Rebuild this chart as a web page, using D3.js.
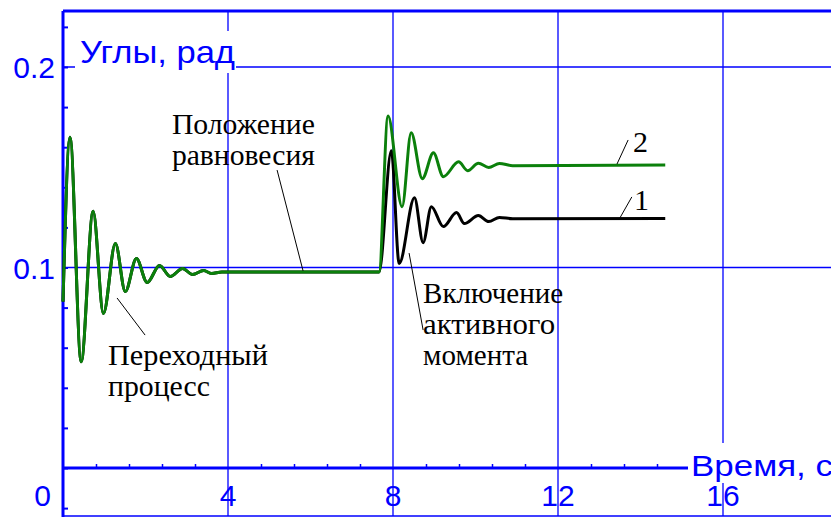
<!DOCTYPE html>
<html>
<head>
<meta charset="utf-8">
<script src="https://cdn.jsdelivr.net/npm/d3@7"></script>
<style>
  body { margin: 0; background: #fff; }
  svg { display: block; }
</style>
</head>
<body>
<div id="chart"></div>
<script>
// переходный процесс (общий для обеих кривых)
var timeStart  = [0, 0.17, 0.44, 0.73, 0.98, 1.27, 1.51, 1.78, 2.04, 2.34, 2.6, 2.9, 3.14, 3.41, 3.6, 3.85, 7.66];
var angleStart = [0.083, 0.165, 0.053, 0.128, 0.077, 0.112, 0.088, 0.1045, 0.0925, 0.101, 0.0955, 0.0995, 0.0965, 0.0985, 0.097, 0.0977, 0.0977];

// кривая 1 (чёрная) после включения активного момента
var time1  = [7.96, 8.15, 8.52, 8.73, 8.93, 9.22, 9.54, 9.73, 10.07, 10.32, 10.58, 10.9, 14.6];
var angle1 = [0.1582, 0.102, 0.1348, 0.1124, 0.1303, 0.1204, 0.1274, 0.1219, 0.1259, 0.1229, 0.125, 0.1243, 0.1244];

// кривая 2 (зелёная)
var time2  = [7.88, 8.22, 8.44, 8.71, 8.98, 9.22, 9.59, 9.81, 10.07, 10.32, 10.58, 10.9, 14.6];
var angle2 = [0.1756, 0.1303, 0.1672, 0.1443, 0.1572, 0.1453, 0.1527, 0.1483, 0.152, 0.1499, 0.1519, 0.1508, 0.1511];

var xTickLabels = [0, 4, 8, 12, 16];
var yTickLabels = [0.1, 0.2];

// подписи-выноски: [t, угол] начала и конца линии, текст
var notes = [
  { from: [5.19, 0.1486], to: [5.82, 0.0983], at: [2.64, 0.1666], lines: ["Положение", "равновесия"], widths: [143, 143] },
  { from: [1.31, 0.0848], to: [1.99, 0.0663], at: [1.09, 0.0514], lines: ["Переходный", "процесс"], widths: [160, 102] },
  { from: [8.39, 0.1072], to: [8.73, 0.0688], at: [8.73, 0.0823], lines: ["Включение", "активного", "момента"], widths: [140, 132, 105] },
  { from: [13.43, 0.1516], to: [13.70, 0.1636], at: [13.82, 0.1576], lines: ["2"], widths: [null] },
  { from: [13.50, 0.1247], to: [13.79, 0.1352], at: [13.84, 0.1287], lines: ["1"], widths: [null] }
];

var width = 831, height = 517;
var blue = "#0000ff";

var x = d3.scaleLinear().domain([0, 16]).range([63, 723]);
var y = d3.scaleLinear().domain([0, 0.2]).range([468, 67]);
var top_y = 11, bottom_y = 516;

var svg = d3.select("#chart")
  .append("svg")
  .attr("width", width)
  .attr("height", height);

// сетка
svg.selectAll(".vgrid")
  .data(xTickLabels.slice(1))
  .enter().append("line")
  .attr("x1", function(d) { return x(d); })
  .attr("x2", function(d) { return x(d); })
  .attr("y1", top_y)
  .attr("y2", bottom_y)
  .attr("stroke", blue)
  .attr("stroke-width", 1.3);

svg.selectAll(".hgrid")
  .data(yTickLabels)
  .enter().append("line")
  .attr("x1", x(0))
  .attr("x2", width)
  .attr("y1", function(d) { return y(d); })
  .attr("y2", function(d) { return y(d); })
  .attr("stroke", blue)
  .attr("stroke-width", 1.3);

// рамка сверху и снизу
svg.append("line").attr("x1", x(0)).attr("x2", width).attr("y1", top_y).attr("y2", top_y)
  .attr("stroke", blue).attr("stroke-width", 3);
svg.append("line").attr("x1", x(0)).attr("x2", width).attr("y1", bottom_y).attr("y2", bottom_y)
  .attr("stroke", blue).attr("stroke-width", 1.5);

// оси
var yMinor = d3.range(-0.02, 0.2201, 0.02);
svg.append("g")
  .attr("transform", "translate(" + x(0) + ",0)")
  .call(d3.axisRight(y).tickValues(yMinor).tickSize(5).tickFormat(""))
  .call(function(g) {
    g.select(".domain").remove();
    g.selectAll("line").attr("stroke", blue).attr("stroke-width", 2);
  });

var xMinor = d3.range(0.8, 15.3, 0.8).filter(function(d) { return Math.abs(d / 4 - Math.round(d / 4)) > 0.01; });
svg.append("g")
  .attr("transform", "translate(0," + y(0) + ")")
  .call(d3.axisTop(x).tickValues(xMinor).tickSize(4).tickFormat(""))
  .call(function(g) {
    g.select(".domain").remove();
    g.selectAll("line").attr("stroke", blue).attr("stroke-width", 1.5);
  });

svg.append("line").attr("x1", x(0)).attr("x2", 688).attr("y1", y(0)).attr("y2", y(0))
  .attr("stroke", blue).attr("stroke-width", 3);
svg.append("line").attr("x1", x(0)).attr("x2", x(0)).attr("y1", top_y).attr("y2", height)
  .attr("stroke", blue).attr("stroke-width", 3);

// кривые
var line = d3.line()
  .x(function(d) { return x(d[0]); })
  .y(function(d) { return y(d[1]); })
  .curve(d3.curveMonotoneX);

var start = timeStart.map(function(t, i) { return [t, angleStart[i]]; });
var series1 = start.concat(time1.map(function(t, i) { return [t, angle1[i]]; }));
var series2 = start.concat(time2.map(function(t, i) { return [t, angle2[i]]; }));

svg.append("path").datum(series1).attr("d", line)
  .attr("fill", "none").attr("stroke", "#000").attr("stroke-width", 3).attr("stroke-linejoin", "round");
svg.append("path").datum(series2).attr("d", line)
  .attr("fill", "none").attr("stroke", "#0b800b").attr("stroke-width", 3).attr("stroke-linejoin", "round");

// подписи осей с белым фоном
svg.append("rect").attr("x", 75).attr("y", 31).attr("width", 161).attr("height", 42).attr("fill", "#fff");
svg.append("text").attr("x", 80).attr("y", 63)
  .attr("font-family", "Liberation Sans, Arial, sans-serif").attr("font-size", 32)
  .attr("textLength", 155).attr("lengthAdjust", "spacingAndGlyphs")
  .attr("fill", blue).text("Углы, рад");

svg.append("rect").attr("x", 688).attr("y", 443).attr("width", 143).attr("height", 40).attr("fill", "#fff");
svg.append("text").attr("x", 691).attr("y", 476)
  .attr("font-family", "Liberation Sans, Arial, sans-serif").attr("font-size", 29)
  .attr("textLength", 142).attr("lengthAdjust", "spacingAndGlyphs")
  .attr("fill", blue).text("Время, с");

// подписи делений
svg.selectAll(".ylab")
  .data(yTickLabels)
  .enter().append("text")
  .attr("x", 55)
  .attr("y", function(d) { return y(d) + 11; })
  .attr("text-anchor", "end")
  .attr("font-family", "Liberation Sans, Arial, sans-serif")
  .attr("font-size", 30)
  .attr("fill", blue)
  .text(function(d) { return d3.format(".1f")(d); });

svg.selectAll(".xlab")
  .data(xTickLabels)
  .enter().append("text")
  .attr("x", function(d) { return d === 0 ? x(d) - 12 : x(d); })
  .attr("y", y(0) + 38)
  .attr("text-anchor", function(d) { return d === 0 ? "end" : "middle"; })
  .attr("font-family", "Liberation Sans, Arial, sans-serif")
  .attr("font-size", 30)
  .attr("fill", blue)
  .text(function(d) { return d; });

// выноски
notes.forEach(function(n) {
  svg.append("line")
    .attr("x1", x(n.from[0])).attr("y1", y(n.from[1]))
    .attr("x2", x(n.to[0])).attr("y2", y(n.to[1]))
    .attr("stroke", "#000").attr("stroke-width", 1);
  n.lines.forEach(function(s, i) {
    var t = svg.append("text")
      .attr("x", x(n.at[0]))
      .attr("y", y(n.at[1]) + i * 31)
      .attr("font-family", "Liberation Serif, Times New Roman, serif")
      .attr("font-size", 30)
      .attr("fill", "#000")
      .text(s);
    if (n.widths[i]) t.attr("textLength", n.widths[i]).attr("lengthAdjust", "spacingAndGlyphs");
  });
});
</script>
</body>
</html>
